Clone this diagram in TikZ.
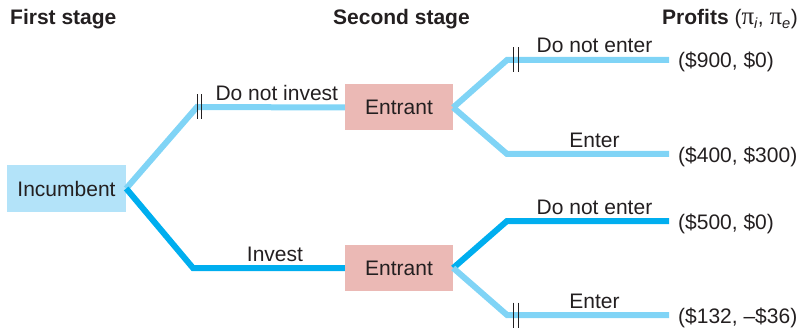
\documentclass[tikz,border=0pt]{standalone}
\usepackage{fontspec}
\setmainfont{Liberation Sans}
\newfontfamily\greekfont{Liberation Serif}
\usetikzlibrary{positioning}
\definecolor{lightbranch}{HTML}{80D4F6}
\definecolor{darkbranch}{HTML}{00AEEF}
\definecolor{incfill}{HTML}{B3E3F9}
\definecolor{entfill}{HTML}{EBB9B5}
\definecolor{textgray}{HTML}{231F20}
\newcommand{\bigpi}{{\greekfont\fontsize{25}{25}\selectfont π}}

\begin{document}
\begin{tikzpicture}[
    x=1pt, y=-1pt,
    font=\fontsize{21}{25}\selectfont, text=textgray,
    % styles
    player/.style={rectangle, draw=none, inner sep=0pt, text=textgray},
    heading/.style={anchor=base west, inner sep=0pt, font=\fontsize{21}{25}\selectfont\bfseries},
    branch/.style={line width=6pt, draw=lightbranch},
    chosen/.style={line width=6pt, draw=darkbranch},
    move/.style={anchor=base, inner sep=0pt, yshift=7pt, text=textgray},
    payoff/.style={anchor=base west, inner sep=0pt, xshift=9pt, yshift=-8pt, text=textgray},
    twobar/.style={line width=0.9pt, draw=textgray}
]
    \useasboundingbox (0,0) rectangle (799,331);

    % --- headings ---
    \node (h1) [heading] at (10,25) {First stage};
    \node (h2) [heading] at (333,25) {Second stage};
    \node (h3) [heading] at (662,25) {Profits \normalfont(\bigpi\textsubscript{\itshape i}, \bigpi\textsubscript{\itshape e})};

    % --- players ---
    \node (inc) [player, fill=incfill, minimum width=119pt, minimum height=47pt] at (66.5,188.5) {Incumbent};
    \node (entU) [player, fill=entfill, minimum width=108pt, minimum height=46pt] at (399,107.5) {Entrant};
    \node (entL) [player, fill=entfill, minimum width=108pt, minimum height=46pt] at (399,268) {Entrant};

    % --- corners and ends ---
    \coordinate (cU) at (197,107);
    \coordinate (cL) at (193,268);
    \coordinate (c1) at (507,60);
    \coordinate (c2) at (507,154);
    \coordinate (c3) at (507,221);
    \coordinate (c4) at (507,315);
    \coordinate (e1) at (669,60);
    \coordinate (e2) at (669,154);
    \coordinate (e3) at (669,221);
    \coordinate (e4) at (669,315);

    % --- branches ---
    \draw [branch] (inc.east) -- (cU) -- node[move, pos=0.54] {Do not invest} (entU.west);
    \draw [chosen] (inc.east) -- (cL) -- node[move, pos=0.54] {Invest} (entL.west);

    \draw [branch] (entU.east) -- (c1) -- node[move, pos=0.54] {Do not enter} (e1);
    \draw [branch] (entU.east) -- (c2) -- node[move, pos=0.54] {Enter} (e2);
    \draw [chosen] (entL.east) -- (c3) -- node[move, pos=0.54] {Do not enter} (e3);
    \draw [branch] (entL.east) -- (c4) -- node[move, pos=0.54] {Enter} (e4);

    % --- payoffs ---
    \node (p1) [payoff] at (e1) {(\$900, \$0)};
    \node (p2) [payoff] at (e2) {(\$400, \$300)};
    \node (p3) [payoff] at (e3) {(\$500, \$0)};
    \node (p4) [payoff] at (e4) {(\$132, –\$36)};

    % --- pruned branches ---
    \foreach \c/\dx in {cU/0, cU/4, c1/6, c1/11, c4/6, c4/11}
        \draw [twobar] ([xshift=\dx pt]\c) +(0,-12.5) -- +(0,12.5);

\end{tikzpicture}
\end{document}
